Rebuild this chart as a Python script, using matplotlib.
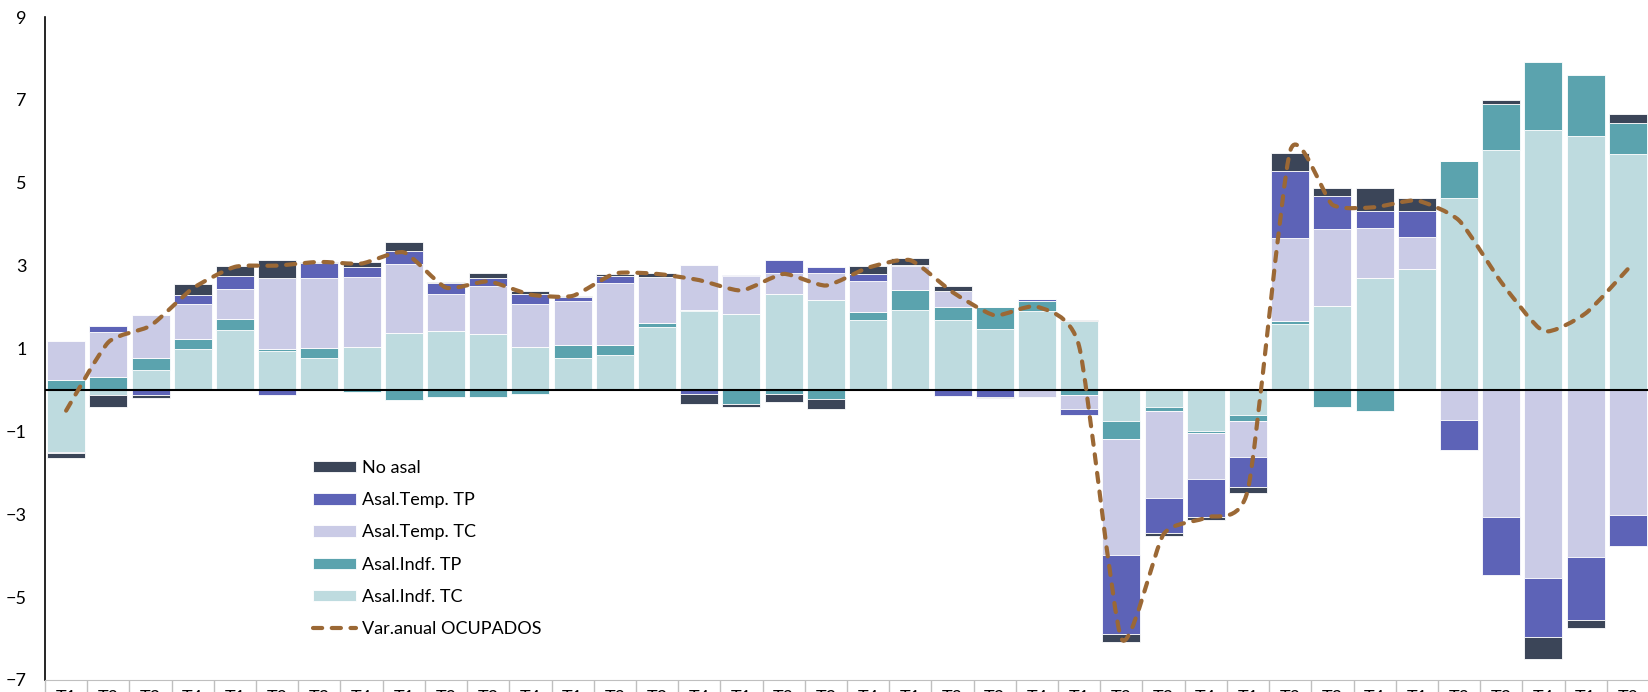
import numpy as np
import matplotlib
matplotlib.use("Agg")
import matplotlib.pyplot as plt
from matplotlib.path import Path
from matplotlib.patches import PathPatch

plt.rcParams['font.family'] = ['Lato', 'DejaVu Sans']

# trimestres 2014T1 .. 2023T2
years = [2014 + (i // 4) for i in range(38)]
quarters = [(i % 4) + 1 for i in range(38)]
labels = [f"T{q}\n{y}" for q, y in zip(quarters, years)]

# contribuciones (puntos porcentuales)
indf_tc = [-1.50, -0.12, 0.49, 1.00, 1.44, 0.94, 0.78, 1.03, 1.37, 1.43,
           1.36, 1.03, 0.77, 0.85, 1.52, 1.90, 1.84, 2.32, 2.16, 1.69,
           1.92, 1.68, 1.47, 1.90, 1.66, -0.74, -0.42, -0.98, -0.61, 1.60,
           2.03, 2.71, 2.92, 4.63, 5.80, 6.28, 6.14, 5.69]
indf_tp = [0.25, 0.32, 0.28, 0.23, 0.27, 0.04, 0.23, -0.06, -0.24, -0.17,
           -0.17, -0.11, 0.31, 0.24, 0.10, 0.03, -0.35, -0.10, -0.23, 0.20,
           0.48, 0.31, 0.52, 0.24, -0.13, -0.44, -0.10, -0.06, -0.14, 0.07,
           -0.42, -0.50, 0.01, 0.89, 1.11, 1.63, 1.47, 0.76]
temp_tc = [0.93, 1.07, 1.05, 0.84, 0.73, 1.73, 1.70, 1.70, 1.68, 0.88,
           1.16, 1.05, 1.06, 1.48, 1.10, 1.08, 0.91, 0.51, 0.67, 0.73,
           0.60, 0.39, 0.00, -0.18, -0.32, -2.80, -2.09, -1.11, -0.88, 1.99,
           1.86, 1.20, 0.75, -0.72, -3.07, -4.53, -4.03, -3.01]
temp_tp = [-0.03, 0.16, -0.12, 0.22, 0.31, -0.12, 0.36, 0.23, 0.31, 0.26,
           0.18, 0.23, 0.10, 0.19, 0.00, -0.11, 0.03, 0.30, 0.14, 0.17,
           0.02, -0.15, -0.17, 0.05, -0.16, -1.92, -0.85, -0.91, -0.72, 1.62,
           0.80, 0.40, 0.63, -0.73, -1.39, -1.44, -1.52, -0.75]
no_asal = [-0.11, -0.30, -0.08, 0.26, 0.25, 0.42, 0.02, 0.12, 0.20, 0.03,
           0.13, 0.07, 0.03, 0.03, 0.10, -0.24, -0.06, -0.19, -0.24, 0.20,
           0.16, 0.14, -0.03, 0.00, 0.02, -0.18, -0.06, -0.09, -0.14, 0.43,
           0.19, 0.56, 0.32, 0.00, 0.09, -0.53, -0.19, 0.22]
ocupados = [-0.50, 1.15, 1.55, 2.45, 2.97, 3.00, 3.09, 3.05, 3.32, 2.47,
            2.62, 2.30, 2.27, 2.81, 2.80, 2.65, 2.40, 2.80, 2.52, 2.95,
            3.13, 2.36, 1.80, 2.01, 1.05, -6.00, -3.48, -3.08, -2.40, 5.77,
            4.47, 4.41, 4.57, 4.09, 2.60, 1.42, 1.85, 2.92]

series = [
    ('Asal.Indf. TC', indf_tc, '#BEDBDF'),
    ('Asal.Indf. TP', indf_tp, '#5BA3AE'),
    ('Asal.Temp. TC', temp_tc, '#CACBE6'),
    ('Asal.Temp. TP', temp_tp, '#5D63B7'),
    ('No asal', no_asal, '#3B4558'),
]
line_color = '#9B6835'

fig = plt.figure(figsize=(16.49, 6.92), dpi=100)
ax = fig.add_axes([45 / 1649, 12 / 692, 1 - 45 / 1649, 663 / 692])

x = np.arange(len(labels))
pos = np.zeros(len(x))
neg = np.zeros(len(x))
handles = {}
for name, vals, color in series:
    v = np.array(vals)
    base = np.where(v >= 0, pos, neg)
    handles[name] = ax.bar(x, v, 0.9, bottom=base, color=color,
                           edgecolor='white', linewidth=0.6, label=name, zorder=2)
    pos = pos + np.where(v >= 0, v, 0)
    neg = neg + np.where(v < 0, v, 0)

ax.axhline(0, color='black', lw=1.5, zorder=3)

# linea suavizada (bezier, poca tension)
pts = np.column_stack([x, ocupados]).astype(float)
verts = [pts[0]]
codes = [Path.MOVETO]
n = len(pts)
k = 1 / 10
for i in range(n - 1):
    p0 = pts[i - 1] if i > 0 else pts[i]
    p1 = pts[i]
    p2 = pts[i + 1]
    p3 = pts[i + 2] if i + 2 < n else pts[i + 1]
    verts += [p1 + (p2 - p0) * k, p2 - (p3 - p1) * k, p2]
    codes += [Path.CURVE4] * 3
dash = (0, (2.2, 2.3))
patch = PathPatch(Path(verts, codes), fill=False, edgecolor=line_color, lw=3,
                  linestyle=dash, zorder=4)
patch.set_capstyle('round')
ax.add_patch(patch)
line_handle, = ax.plot([], [], color=line_color, lw=3, linestyle=dash,
                       dash_capstyle='round', label='Var.anual OCUPADOS')

ax.set_ylim(-7, 9)
ax.set_xlim(-0.5, -0.5 + (1649 - 45) / 42.45)
ax.set_yticks(np.arange(-7, 10, 2))
ax.tick_params(axis='y', length=0, pad=13, labelsize=13)

ax.set_xticks(np.arange(-0.5, len(x) + 0.5, 1))
ax.set_xticklabels([])
ax.tick_params(axis='x', which='major', length=9, color='#BFBFBF', width=1)
ax.set_xticks(x, minor=True)
ax.set_xticklabels(labels, minor=True, fontsize=13, va='top')
ax.tick_params(axis='x', which='minor', length=0, pad=7)

for s in ['top', 'right']:
    ax.spines[s].set_visible(False)
ax.spines['bottom'].set_color('#BFBFBF')
ax.spines['left'].set_color('black')
ax.spines['left'].set_linewidth(1.2)

order = ['No asal', 'Asal.Temp. TP', 'Asal.Temp. TC', 'Asal.Indf. TP', 'Asal.Indf. TC']
leg = ax.legend([handles[k] for k in order] + [line_handle],
                order + ['Var.anual OCUPADOS'],
                loc='upper left', bbox_to_anchor=(313 / 1649, 1 - 460 / 692),
                bbox_transform=fig.transFigure, frameon=False, fontsize=13,
                handlelength=2.4, handleheight=0.6, handletextpad=0.3,
                labelspacing=0.9, borderaxespad=0, borderpad=0)

fig.savefig('out.png', dpi=100)
